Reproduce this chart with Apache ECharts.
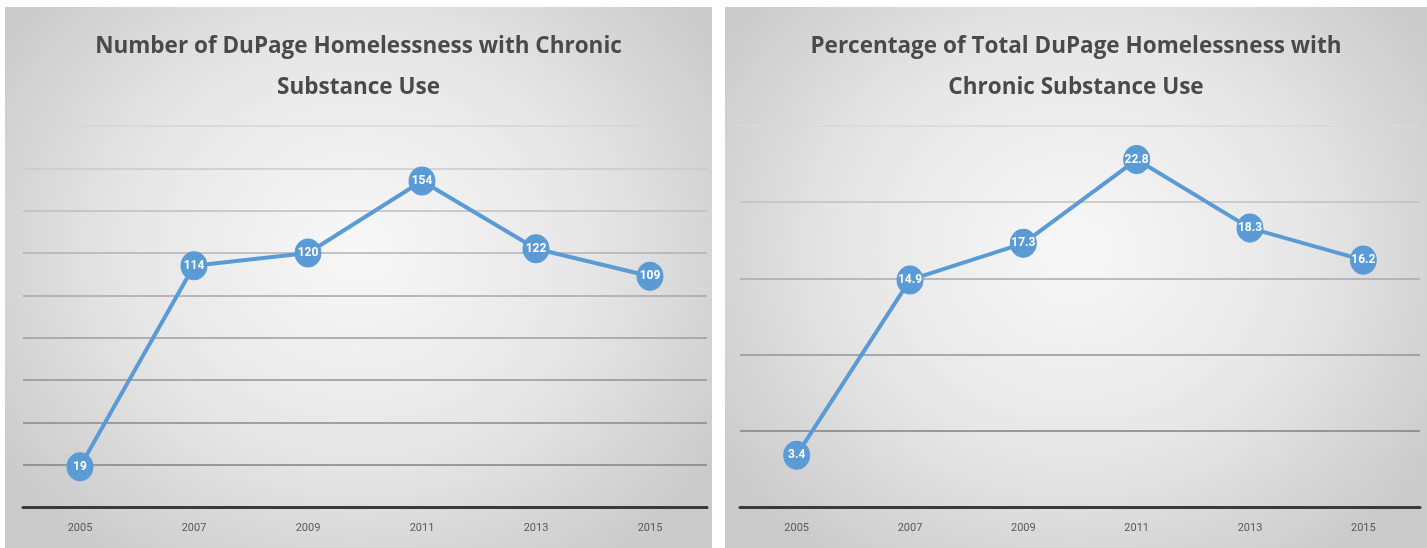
<!DOCTYPE html>
<html><head><meta charset="utf-8">
<script src="https://cdn.jsdelivr.net/npm/echarts@6/dist/echarts.min.js"></script>
<style>
html,body{margin:0;padding:0;background:#fff;width:1427px;height:548px;overflow:hidden;}
.panel{position:absolute;top:7px;height:541px;
background:radial-gradient(ellipse 60% 70% at 50% 45%, #f8f8f8 0%, #e6e6e6 55%, #cbcbcb 100%);}
#p1{left:5px;width:707px;}
#p2{left:725px;width:702px;}
</style></head>
<body>
<div id="p1" class="panel"></div>
<div id="p2" class="panel"></div>
<script>
const years = ['2005','2007','2009','2011','2013','2015'];
const countValues = [19,114,120,154,122,109];
const pctValues = [3.4,14.9,17.3,22.8,18.3,16.2];
const title1 = 'Number of DuPage Homelessness with Chronic\nSubstance Use';
const title2 = 'Percentage of Total DuPage Homelessness with\nChronic Substance Use';

function makeOption(title, data, max, interval, gridColors, grid){
  return {
    animation:false,
    title:{text:title,left:'center',top:14,
      textStyle:{fontFamily:'Open Sans',fontWeight:'bold',fontSize:22.5,color:'#4a4a4a',lineHeight:41}},
    grid:grid,
    xAxis:{type:'category',data:years,boundaryGap:true,
      axisLine:{lineStyle:{color:'#3a3a3a',width:3}},
      axisTick:{show:false},
      axisLabel:{color:'#595959',fontSize:11,fontFamily:'Liberation Sans Narrow, Roboto',margin:16}},
    yAxis:{type:'value',min:0,max:max,interval:interval,
      axisLabel:{show:false},axisLine:{show:false},axisTick:{show:false},
      splitLine:{lineStyle:{color:gridColors,width:1.5}}},
    series:[{type:'line',data:data,symbol:'circle',symbolSize:[26,28],
      lineStyle:{color:'#5b9bd5',width:4},
      itemStyle:{color:'#5b9bd5',borderColor:'#5b9bd5'},
      label:{show:true,position:'inside',color:'#fff',fontWeight:'bold',fontSize:12,
        fontFamily:'Liberation Sans Narrow, Roboto'}}]
  };
}
const c1 = echarts.init(document.getElementById('p1'));
c1.setOption(makeOption(title1,countValues,180,20,
  ['#808080','#808080','#888888','#929292','#9c9c9c','#a6a6a6','#b2b2b2','#bebebe','#cacaca','#d6d6d6'],
  {left:18,right:5,top:119,bottom:41}));
const c2 = echarts.init(document.getElementById('p2'));
c2.setOption(makeOption(title2,pctValues,25,5,
  ['#808080','#808080','#939393','#a8a8a8','#c0c0c0','#d8d8d8'],
  {left:15,right:7,top:119,bottom:41}));
</script>
</body></html>
